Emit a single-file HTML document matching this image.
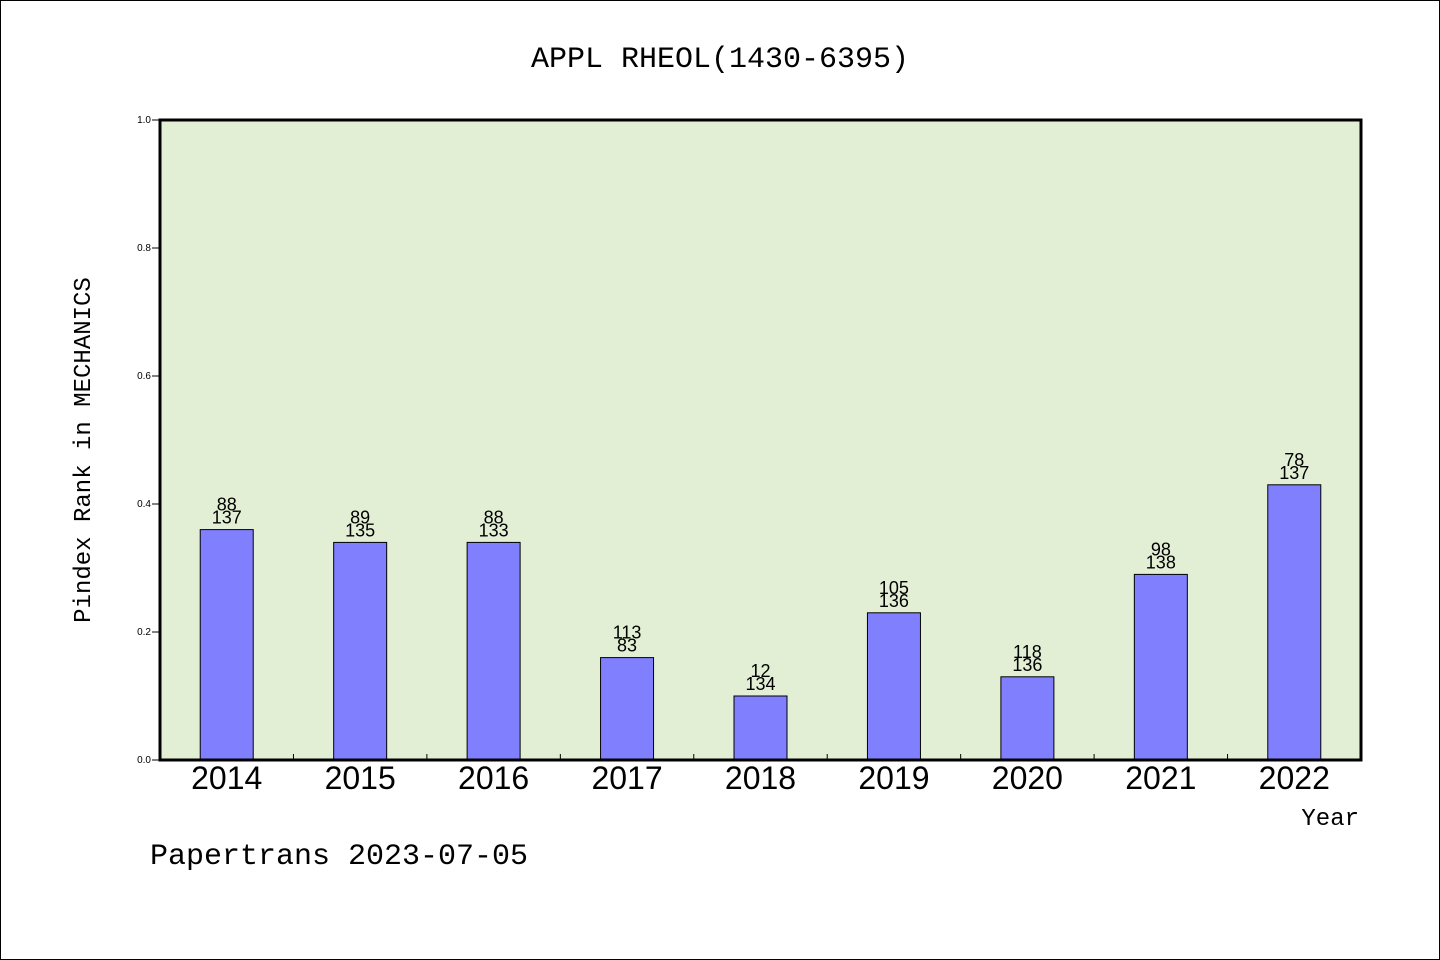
<!DOCTYPE html>
<html><head><meta charset="utf-8"><style>
body{margin:0;background:#fff}
svg{display:block;font-family:"Liberation Sans","WenQuanYi Zen Hei",sans-serif}
.m{font-family:"WenQuanYi Zen Hei","Liberation Mono",monospace}
</style></head><body>
<svg id="c" width="1440" height="960">
<rect x="0.5" y="0.5" width="1439" height="959" fill="#fff" stroke="#000"/>
<text class="m" x="720" y="67" font-size="30" text-anchor="middle">APPL RHEOL(1430-6395)</text>
<rect x="160" y="120" width="1201" height="640" fill="#e2efd5"/>
<g id="bars"></g>
<rect x="160" y="120" width="1201" height="640" fill="none" stroke="#000" stroke-width="3"/>
<g id="axes"></g>
<text class="m" transform="translate(90,450) rotate(-90)" font-size="24" text-anchor="middle">Pindex Rank in MECHANICS</text>
<text class="m" x="1359" y="825" font-size="24" text-anchor="end">Year</text>
<text class="m" x="150" y="864" font-size="30">Papertrans 2023-07-05</text>
</svg>
<script>
const years=["2014","2015","2016","2017","2018","2019","2020","2021","2022"];
const values=[0.36,0.34,0.34,0.16,0.10,0.23,0.13,0.29,0.43];
const rankTop=["88","89","88","113","12","105","118","98","78"];
const rankBottom=["137","135","133","83","134","136","136","138","137"];
const yTicks=[0,0.2,0.4,0.6,0.8,1.0];
const ns="http://www.w3.org/2000/svg";
const X0=160,X1=1361,Y0=760,Y1=120;
const band=(X1-X0)/years.length;
const xc=i=>X0+band*(i+0.5);
const ys=v=>Y0-(Y0-Y1)*v;
function mk(t,a,p){const e=document.createElementNS(ns,t);for(const k in a)e.setAttribute(k,a[k]);p.appendChild(e);return e;}
const bars=document.getElementById('bars'),axes=document.getElementById('axes');
years.forEach((y,i)=>{
 const r=mk('rect',{x:xc(i)-26.5,y:ys(values[i]),width:53,height:Y0-ys(values[i]),fill:'#8080ff',stroke:'#000','stroke-width':1},bars);
 
 
 const t1=mk('text',{x:xc(i),y:ys(values[i])-19,'font-size':18,'text-anchor':'middle'},bars);t1.textContent=rankTop[i];
 
 
 const t2=mk('text',{x:xc(i),y:ys(values[i])-6,'font-size':18,'text-anchor':'middle'},bars);t2.textContent=rankBottom[i];
 
 
 const xl=mk('text',{x:xc(i),y:789,'font-size':32,'text-anchor':'middle'},axes);xl.textContent=y;
 
 
 if(i>0){const tk=mk('line',{x1:X0+band*i,x2:X0+band*i,y1:Y0,y2:Y0-6,stroke:'#000'},axes);
 
 }
});
yTicks.forEach(v=>{
 const l=mk('line',{x1:X0-8,x2:X0,y1:ys(v),y2:ys(v),stroke:'#000'},axes);
 
 
 const t=mk('text',{x:X0-9,y:ys(v)+3,'font-size':10,'text-anchor':'end'},axes);t.textContent=v.toFixed(1);
 
 
});
</script>
</body></html>
